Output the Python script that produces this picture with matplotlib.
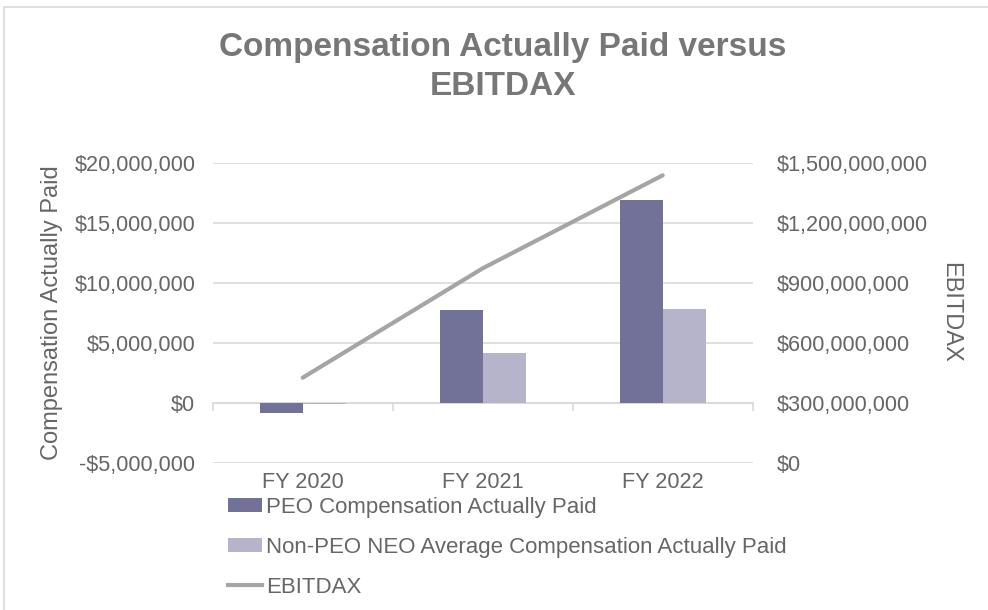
import matplotlib
matplotlib.use("Agg")
import matplotlib.pyplot as plt
from matplotlib.ticker import FuncFormatter, FixedLocator
from matplotlib.patches import Patch, Rectangle
from matplotlib.lines import Line2D
import numpy as np

plt.rcParams['font.family'] = ['Liberation Sans', 'DejaVu Sans']

categories = ["FY 2020", "FY 2021", "FY 2022"]
peo_cap = [-850000, 7750000, 16900000]
non_peo_cap = [-150000, 4100000, 7800000]
ebitdax = [425000000, 972000000, 1437000000]

left_ticks = [-5000000, 0, 5000000, 10000000, 15000000, 20000000]
right_ticks = [0, 300000000, 600000000, 900000000, 1200000000, 1500000000]

title = "Compensation Actually Paid versus\nEBITDAX"
labels = ["PEO Compensation Actually Paid",
          "Non-PEO NEO Average Compensation Actually Paid",
          "EBITDAX"]

c_peo = "#727298"
c_non = "#B5B4CA"
c_line = "#A5A5A5"
c_text = "#666666"
c_grid = "#D9D9D9"

W, H = 988, 610
fig = plt.figure(figsize=(W / 100, H / 100), dpi=100)

# outer chart border
fig.patches.append(Rectangle((4 / W, -0.01), 1.02, 1 - 7 / H + 0.01, transform=fig.transFigure,
                             fill=False, edgecolor=c_grid, linewidth=1.2))

ax = fig.add_axes([212.7 / W, 1 - 462.7 / H, 540 / W, 300 / H])
x = np.arange(len(categories))
bw = 0.24
ax.bar(x - bw / 2, peo_cap, width=bw, color=c_peo, zorder=3)
ax.bar(x + bw / 2, non_peo_cap, width=bw, color=c_non, zorder=3)

ax.set_xlim(-0.5, len(categories) - 0.5)
ax.set_ylim(left_ticks[0], left_ticks[-1])
ax.yaxis.set_major_locator(FixedLocator(left_ticks))
ax.yaxis.set_major_formatter(FuncFormatter(lambda v, p: ("-$" if v < 0 else "$") + f"{abs(v):,.0f}"))
ax.grid(axis='y', color=c_grid, linewidth=1.2, zorder=0)
for s in ax.spines.values():
    s.set_visible(False)
ax.set_xticks(x)
ax.set_xticklabels(categories)
ax.tick_params(axis='x', length=0, pad=7, labelsize=15.6, labelcolor=c_text)
ax.tick_params(axis='y', length=0, pad=12.5, labelsize=15.6, labelcolor=c_text)
ax.set_ylabel("Compensation Actually Paid", fontsize=17, color=c_text, labelpad=8)

# category axis line at zero with boundary tick marks
zero_frac = (0 - left_ticks[0]) / (left_ticks[-1] - left_ticks[0])
sec = ax.secondary_xaxis(zero_frac)
sec.spines['bottom'].set_color(c_grid)
sec.spines['bottom'].set_linewidth(1.2)
sec.set_xticks(np.arange(len(categories) + 1) - 0.5)
sec.tick_params(axis='x', length=6, width=1.2, color=c_grid, labelbottom=False)

ax2 = ax.twinx()
ax2.plot(x, ebitdax, color=c_line, linewidth=3, solid_capstyle='round', zorder=4)
ax2.set_ylim(right_ticks[0], right_ticks[-1])
ax2.yaxis.set_major_locator(FixedLocator(right_ticks))
ax2.yaxis.set_major_formatter(FuncFormatter(lambda v, p: f"${v:,.0f}"))
ax2.tick_params(axis='y', length=0, pad=17, labelsize=15.6, labelcolor=c_text)
for s in ax2.spines.values():
    s.set_visible(False)
ax2.set_ylabel("EBITDAX", fontsize=17, color=c_text, rotation=-90, labelpad=24)

fig.text(503 / W, 1 - 67 / H, title, ha='center', va='center', fontsize=24,
         fontweight='bold', color="#777777", linespacing=1.32)

handles = [Patch(facecolor=c_peo, edgecolor='none'),
           Patch(facecolor=c_non, edgecolor='none'),
           Line2D([0], [0], color=c_line, linewidth=3)]
fig.legend(handles, labels, loc='upper left', bbox_to_anchor=(228 / W, 1 - 497 / H),
           frameon=False, fontsize=16.0, labelcolor=c_text, handlelength=1.55,
           handleheight=0.55, handletextpad=0.15, labelspacing=0.85,
           borderpad=0, borderaxespad=0)

fig.savefig("out.png", dpi=100)
